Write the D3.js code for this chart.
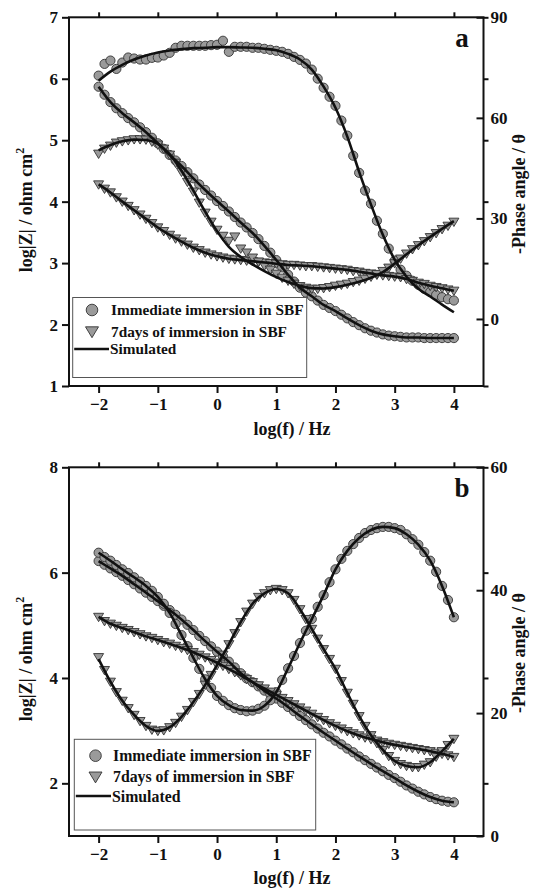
<!DOCTYPE html>
<html><head><meta charset="utf-8">
<script src="https://cdn.jsdelivr.net/npm/d3@7"></script>
<style>
body{margin:0;background:#fff}
text{font-family:"Liberation Serif","Times New Roman",serif;font-weight:bold;fill:#111}
</style>
</head><body>
<svg id="chart" width="536" height="891"></svg>
<script>
// ---------- data ----------
const logF = [-2.0,-1.9,-1.8,-1.7,-1.6,-1.5,-1.4,-1.3,-1.2,-1.1,
  -1.0,-0.9,-0.8,-0.7,-0.6,-0.5,-0.4,-0.3,-0.2,-0.1,
  0.0,0.1,0.2,0.3,0.4,0.5,0.6,0.7,0.8,0.9,
  1.0,1.1,1.2,1.3,1.4,1.5,1.6,1.7,1.8,1.9,
  2.0,2.1,2.2,2.3,2.4,2.5,2.6,2.7,2.8,2.9,
  3.0,3.1,3.2,3.3,3.4,3.5,3.6,3.7,3.8,3.9,4.0];
const fitF = [-2.0,-1.8,-1.6,-1.4,-1.2,-1.0,-0.8,-0.6,-0.4,-0.2,
  0.0,0.2,0.4,0.6,0.8,1.0,1.2,1.4,1.6,1.8,
  2.0,2.2,2.4,2.6,2.8,3.0,3.2,3.4,3.6,3.8,4.0];

// panel a : immediate immersion
const aImmZ = [5.87,5.74,5.62,5.52,5.44,5.36,5.29,5.21,5.13,5.04,
  4.95,4.86,4.76,4.67,4.58,4.48,4.38,4.28,4.19,4.10,
  4.01,3.93,3.84,3.75,3.66,3.58,3.49,3.39,3.28,3.17,
  3.05,2.93,2.81,2.70,2.60,2.52,2.46,2.39,2.32,2.27,
  2.22,2.16,2.10,2.04,1.99,1.94,1.90,1.87,1.84,1.82,
  1.81,1.80,1.79,1.79,1.79,1.78,1.78,1.78,1.78,1.78,1.78];
const aImmPhase = [72.6,76.1,77.1,74.6,76.5,78.0,77.7,77.4,77.4,77.9,
  78.0,78.6,79.4,80.9,81.5,81.5,81.5,81.5,81.5,81.7,
  81.8,83.0,79.7,81.2,81.2,81.2,80.9,80.9,80.6,80.3,
  80.0,79.7,79.1,78.2,77.3,76.2,74.4,71.7,69.0,66.3,
  63.6,59.2,54.7,48.7,43.6,38.3,34.4,29.3,25.4,21.0,
  17.4,14.7,12.9,11.4,10.2,9.0,8.1,7.2,6.5,5.9,5.5];
// panel a : 7 days
const a7dZ = [4.28,4.21,4.15,4.07,4.00,3.93,3.86,3.79,3.72,3.65,
  3.58,3.52,3.46,3.40,3.35,3.30,3.25,3.21,3.17,3.14,
  3.11,3.09,3.07,3.06,3.05,3.04,3.03,3.02,3.01,3.00,
  2.99,2.98,2.97,2.97,2.96,2.95,2.95,2.94,2.93,2.92,
  2.91,2.90,2.89,2.87,2.86,2.84,2.83,2.81,2.80,2.79,
  2.78,2.77,2.74,2.71,2.68,2.66,2.63,2.61,2.59,2.57,2.55];
const a7dPhase = [49.3,50.8,51.7,52.6,53.0,53.3,53.6,53.6,53.5,52.9,
  52.0,50.8,49.0,46.6,43.9,40.9,38.0,34.7,31.7,29.0,
  26.6,24.8,23.3,24.6,21.0,19.8,18.3,17.1,15.9,14.7,
  13.5,12.3,11.4,10.5,9.8,9.3,9.0,9.0,9.2,9.5,
  9.9,10.2,10.5,11.0,11.4,12.0,12.6,13.4,14.3,15.3,
  16.6,18.0,19.5,20.8,22.0,23.2,24.4,25.6,26.8,27.8,29.0];
// panel a : simulated
const aFitImmZ = [5.87,5.62,5.44,5.29,5.13,4.95,4.76,4.58,4.38,4.19,4.01,3.84,3.66,3.49,3.28,3.05,
  2.81,2.60,2.46,2.32,2.22,2.10,1.99,1.90,1.84,1.81,1.79,1.79,1.78,1.78,1.78];
const aFitImmPhase = [71.1,73.8,75.8,77.4,78.6,79.5,80.1,80.5,80.8,80.9,81.1,81.1,81.0,80.9,80.6,80.2,
  79.1,77.4,74.4,69.3,63.0,54.4,43.9,34.1,25.1,17.7,12.6,9.0,6.7,4.3,2.0];
const aFit7dZ = [4.28,4.15,4.00,3.86,3.72,3.58,3.46,3.35,3.25,3.17,3.11,3.07,3.05,3.03,3.01,2.99,
  2.97,2.96,2.95,2.93,2.91,2.89,2.86,2.83,2.80,2.78,2.74,2.68,2.63,2.59,2.55];
const aFit7dPhase = [50.3,51.9,53.0,53.5,53.4,52.2,49.2,44.2,38.3,32.0,26.2,21.5,18.5,16.3,14.3,12.5,
  11.0,9.9,9.2,9.1,9.5,10.2,11.1,12.3,14.0,16.5,19.3,22.0,24.5,26.9,29.2];

// panel b : immediate immersion
const bImmZ = [6.22,6.15,6.08,6.01,5.94,5.86,5.78,5.70,5.62,5.54,
  5.46,5.37,5.29,5.20,5.11,5.01,4.91,4.80,4.70,4.60,
  4.50,4.41,4.31,4.20,4.09,3.99,3.92,3.84,3.76,3.69,
  3.61,3.53,3.45,3.37,3.28,3.20,3.12,3.04,2.96,2.89,
  2.81,2.74,2.66,2.59,2.51,2.44,2.37,2.30,2.23,2.16,
  2.10,2.03,1.96,1.90,1.84,1.79,1.74,1.70,1.67,1.65,1.64];
const bImmPhase = [46.1,45.4,44.8,44.1,43.4,42.8,42.1,41.4,40.7,39.9,
  38.9,37.8,36.3,34.5,32.7,30.9,29.0,27.2,25.5,24.1,
  22.8,22.0,21.3,20.8,20.5,20.3,20.4,20.7,21.2,22.1,
  23.4,25.4,27.3,29.3,31.4,33.4,35.3,37.3,39.2,41.3,
  43.4,45.1,46.4,47.5,48.5,49.3,49.8,50.1,50.3,50.3,
  50.1,49.8,49.1,48.3,47.4,46.2,44.8,43.0,40.7,38.4,35.6];
// panel b : 7 days
const b7dZ = [5.16,5.08,5.03,4.99,4.95,4.91,4.87,4.83,4.79,4.76,
  4.72,4.68,4.65,4.61,4.57,4.53,4.49,4.44,4.39,4.34,
  4.29,4.23,4.17,4.11,4.05,3.98,3.92,3.86,3.80,3.74,
  3.68,3.62,3.56,3.50,3.44,3.38,3.32,3.26,3.20,3.14,
  3.09,3.04,2.99,2.95,2.91,2.87,2.84,2.81,2.78,2.75,
  2.73,2.71,2.69,2.67,2.65,2.63,2.61,2.58,2.56,2.53,2.50];
const b7dPhase = [29.1,27.0,25.1,23.4,22.0,20.8,19.7,18.7,17.9,17.3,
  17.1,17.2,17.7,18.4,19.4,20.5,21.8,23.1,24.6,26.2,
  27.8,29.5,31.2,33.0,34.8,36.5,37.8,38.9,39.5,40.0,
  40.2,40.0,39.5,38.4,36.9,35.3,33.7,32.1,30.4,28.8,
  27.2,25.2,23.3,21.5,19.5,17.9,16.4,15.1,14.0,13.0,
  12.2,11.7,11.4,11.2,11.2,11.6,12.0,12.9,13.8,14.8,15.8];
// panel b : simulated
const bFitImmZ = [6.22,6.08,5.94,5.78,5.62,5.46,5.29,5.11,4.91,4.70,4.50,4.31,4.09,3.92,3.76,3.61,
  3.45,3.28,3.12,2.96,2.81,2.66,2.51,2.37,2.23,2.10,1.96,1.84,1.74,1.67,1.64];
const bFitImmPhase = [46.1,44.8,43.4,42.1,40.7,38.9,36.3,32.7,29.0,25.5,22.8,21.3,20.5,20.4,21.2,23.4,
  27.3,31.4,35.3,39.2,43.4,46.4,48.5,49.8,50.3,50.1,49.1,47.4,44.8,40.7,35.6];
const bFit7dZ = [5.16,5.03,4.95,4.87,4.79,4.72,4.65,4.57,4.49,4.39,4.29,4.17,4.05,3.92,3.80,3.68,
  3.56,3.44,3.32,3.20,3.09,2.99,2.91,2.84,2.78,2.73,2.69,2.65,2.61,2.56,2.50];
const bFit7dPhase = [28.8,25.1,22.0,19.7,17.9,17.1,17.7,19.4,21.8,24.6,27.8,31.2,34.8,37.8,39.5,40.2,
  39.5,36.9,33.7,30.4,27.2,23.3,19.5,16.4,14.0,12.2,11.4,11.2,12.0,13.8,15.8];

const xTicks = [-2,-1,0,1,2,3,4];
const aLeftTicks = [1,2,3,4,5,6,7];
const aRightTicks = [0,30,60,90];
const bLeftTicks = [2,4,6,8];
const bRightTicks = [0,20,40,60];
const legendLabels = ["Immediate immersion in SBF","7days of immersion in SBF","Simulated"];

// ---------- drawing ----------
const svg = d3.select("#chart");
const L = 69, R = 483.5;
const x = d3.scaleLinear().domain([-2.5,4.5]).range([L,R]);

const MFILL = "#9a9a9a", MSTROKE = "#333";
const triPath = s => `M${-s},${-s*0.72}L${s},${-s*0.72}L0,${s*0.95}Z`;

function panel(cfg){
  const g = svg.append("g");
  const yL = d3.scaleLinear().domain(cfg.leftDomain).range([cfg.bottom,cfg.top]);
  const yR = d3.scaleLinear().domain(cfg.rightDomain).range([cfg.bottom,cfg.top]);

  // markers
  const series = [
    {v:cfg.immZ, y:yL, m:"c"},
    {v:cfg.immPhase, y:yR, m:"c"},
    {v:cfg.d7Z, y:yL, m:"t"},
    {v:cfg.d7Phase, y:yR, m:"t"}
  ];
  series.forEach(s=>{
    const pts = logF.map((f,i)=>[x(f), s.y(s.v[i])]);
    if(s.m==="c"){
      g.append("g").selectAll("circle").data(pts).join("circle")
        .attr("cx",d=>d[0]).attr("cy",d=>d[1]).attr("r",4.6)
        .attr("fill",MFILL).attr("stroke",MSTROKE).attr("stroke-width",0.9);
    } else {
      g.append("g").selectAll("path").data(pts).join("path")
        .attr("transform",d=>`translate(${d[0]},${d[1]})`)
        .attr("d",triPath(5))
        .attr("fill",MFILL).attr("stroke",MSTROKE).attr("stroke-width",0.9);
    }
  });

  // simulated lines
  const fits = [
    {v:cfg.fitImmZ, y:yL},{v:cfg.fitImmPhase, y:yR},
    {v:cfg.fit7dZ, y:yL},{v:cfg.fit7dPhase, y:yR}
  ];
  fits.forEach(s=>{
    const line = d3.line().x((d,i)=>x(fitF[i])).y(d=>s.y(d)).curve(d3.curveMonotoneX);
    g.append("path").attr("d",line(s.v)).attr("fill","none")
      .attr("stroke","#111").attr("stroke-width",2.6);
  });

  // frame
  g.append("rect").attr("x",L).attr("y",cfg.top).attr("width",R-L).attr("height",cfg.bottom-cfg.top)
    .attr("fill","none").attr("stroke","#111").attr("stroke-width",2);

  const styleAxis = (sel, fs) => {
    sel.select(".domain").remove();
    sel.selectAll(".tick line").attr("stroke","#111").attr("stroke-width",2);
    sel.selectAll(".tick text").attr("font-size",fs)
      .attr("font-family",'"Liberation Serif","Times New Roman",serif').attr("font-weight","bold").attr("fill","#111");
  };
  // bottom
  g.append("g").attr("transform",`translate(0,${cfg.bottom})`)
    .call(d3.axisBottom(x).tickValues(xTicks).tickSize(7).tickPadding(5).tickFormat(d3.format("d")))
    .call(s=>styleAxis(s,17));
  // top mirror
  g.append("g").attr("transform",`translate(0,${cfg.top})`)
    .call(d3.axisTop(x).tickValues(xTicks).tickSize(5).tickFormat(""))
    .call(s=>styleAxis(s,17));
  // left
  g.append("g").attr("transform",`translate(${L},0)`)
    .call(d3.axisLeft(yL).tickValues(cfg.leftTicks).tickSize(7).tickPadding(4).tickFormat(d3.format("d")))
    .call(s=>styleAxis(s,17));
  // right mirror of left ticks (outward)
  g.append("g").attr("transform",`translate(${R},0)`)
    .call(d3.axisRight(yL).tickValues(cfg.leftTicks).tickSize(5).tickFormat(""))
    .call(s=>styleAxis(s,17));
  // right phase axis (ticks inward)
  g.append("g").attr("transform",`translate(${R},0)`)
    .call(d3.axisRight(yR).tickValues(cfg.rightTicks).tickSize(-7).tickPadding(7).tickFormat(d3.format("d")))
    .call(s=>styleAxis(s,17));

  // axis titles
  g.append("text").attr("x",292).attr("y",cfg.xTitleY).attr("text-anchor","middle")
    .attr("font-size",18).text("log(f) / Hz");
  const lt = g.append("text").attr("transform",`translate(31.5,${cfg.leftTitleY}) rotate(-90)`)
    .attr("text-anchor","middle").attr("font-size",18);
  lt.append("tspan").text("log|Z| / ohm cm");
  lt.append("tspan").attr("font-size",12).attr("dy",-8).text("2");
  g.append("text").attr("transform",`translate(525,${cfg.rightTitleY}) rotate(-90)`)
    .attr("text-anchor","middle").attr("font-size",18).text("-Phase angle / \u03B8");

  // panel letter
  g.append("text").attr("x",462).attr("y",cfg.top+30).attr("text-anchor","middle")
    .attr("font-size",27).text(cfg.letter);

  // legend
  const lg = cfg.legend;
  g.append("rect").attr("x",lg.x0).attr("y",lg.y0).attr("width",lg.x1-lg.x0).attr("height",lg.y1-lg.y0)
    .attr("fill","#fff").attr("stroke","#555").attr("stroke-width",1);
  g.append("circle").attr("cx",lg.mx).attr("cy",lg.rows[0]).attr("r",5.8)
    .attr("fill",MFILL).attr("stroke",MSTROKE).attr("stroke-width",0.9);
  g.append("path").attr("transform",`translate(${lg.mx},${lg.rows[1]})`).attr("d",triPath(6.5))
    .attr("fill",MFILL).attr("stroke",MSTROKE).attr("stroke-width",0.9);
  g.append("line").attr("x1",lg.x0+1.5).attr("x2",lg.tx-2).attr("y1",lg.rows[2]).attr("y2",lg.rows[2])
    .attr("stroke","#111").attr("stroke-width",2.6);
  legendLabels.forEach((t,i)=>{
    g.append("text").attr("x",i===2?lg.tx-1:lg.tx).attr("y",lg.rows[i]).attr("dy","0.35em")
      .attr("font-size",lg.fs).text(t);
  });
}

panel({
  top:17.3, bottom:386, leftDomain:[1,7], rightDomain:[-20,90],
  leftTicks:aLeftTicks, rightTicks:aRightTicks,
  immZ:aImmZ, immPhase:aImmPhase, d7Z:a7dZ, d7Phase:a7dPhase,
  fitImmZ:aFitImmZ, fitImmPhase:aFitImmPhase, fit7dZ:aFit7dZ, fit7dPhase:aFit7dPhase,
  xTitleY:435, leftTitleY:210, rightTitleY:194, letter:"a",
  legend:{x0:72.7,x1:306.7,y0:297.5,y1:377.5,mx:92,tx:111,rows:[310,331.5,349],fs:15.3}
});
panel({
  top:467.3, bottom:836, leftDomain:[1,8], rightDomain:[0,60],
  leftTicks:bLeftTicks, rightTicks:bRightTicks,
  immZ:bImmZ, immPhase:bImmPhase, d7Z:b7dZ, d7Phase:b7dPhase,
  fitImmZ:bFitImmZ, fitImmPhase:bFitImmPhase, fit7dZ:bFit7dZ, fit7dPhase:bFit7dPhase,
  xTitleY:884, leftTitleY:659, rightTitleY:653, letter:"b",
  legend:{x0:74.3,x1:315.7,y0:739.3,y1:830,mx:95.5,tx:113,rows:[755.7,776.7,796],fs:15.8}
});
</script>
</body></html>
